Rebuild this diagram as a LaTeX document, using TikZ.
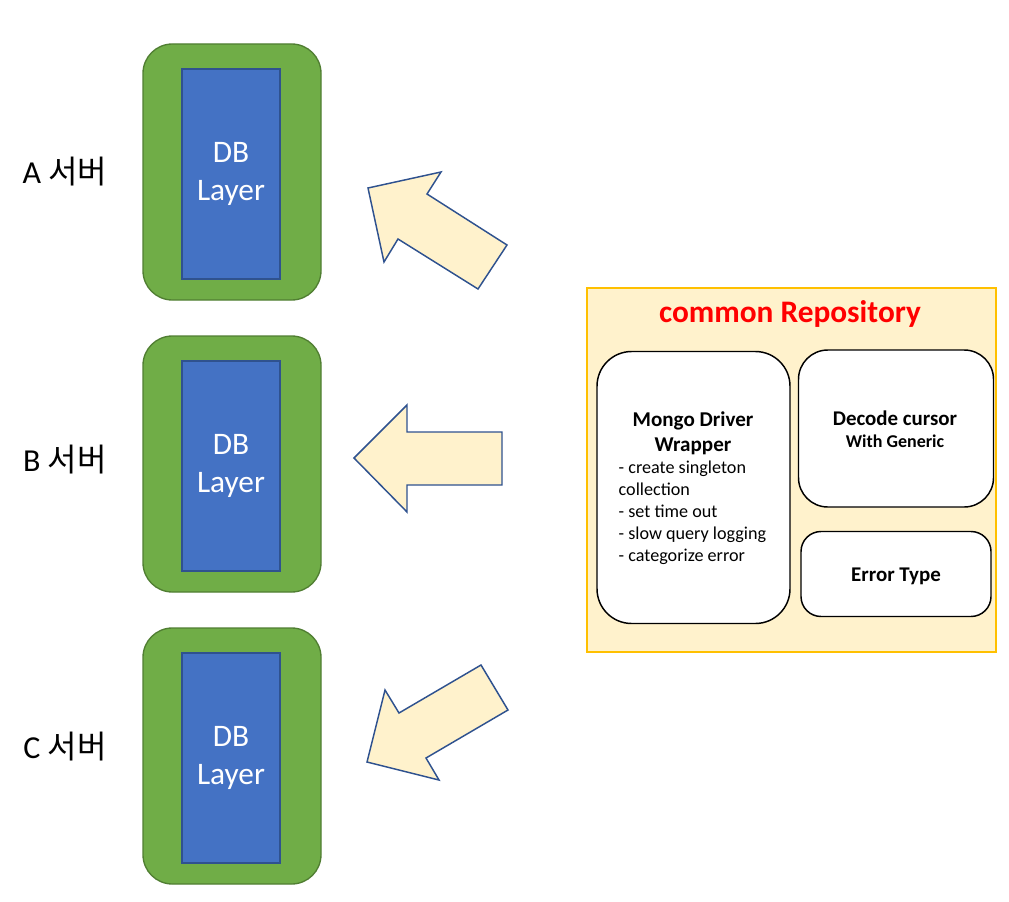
\documentclass[tikz,border=0pt]{standalone}
\usepackage{fontspec}
\setmainfont{Carlito}
\newfontfamily\krfont{Noto Sans CJK KR}
\usetikzlibrary{positioning}

\definecolor{srvgreen}{HTML}{70AD47}
\definecolor{srvgreenline}{HTML}{507E32}
\definecolor{dbblue}{HTML}{4472C4}
\definecolor{dbblueline}{HTML}{2F528F}
\definecolor{cream}{HTML}{FFF2CC}
\definecolor{gold}{HTML}{FFC000}

\tikzset{
    server/.style={draw=srvgreenline, fill=srvgreen, line width=1pt, rounded corners=22pt,
                   minimum width=133.5pt, minimum height=192pt},
    dblayer/.style={draw=dbblueline, fill=dbblue, line width=1pt, minimum width=73.5pt,
                    minimum height=157.5pt, text=white, align=center,
                    font=\fontsize{23.5}{28}\selectfont},
    srvlabel/.style={font=\fontsize{24}{28}\selectfont},
    bigarrow/.style={draw=dbblueline, fill=cream, line width=1.1pt, line join=miter},
    module/.style={draw=black, fill=white, line width=1.1pt},
}

\begin{document}
\begin{tikzpicture}[x=0.75pt, y=-0.75pt]
\useasboundingbox (0,0) rectangle (1009,902);

% servers
\begin{scope}[every node/.style={}]
    \node (a) at (232, 172) [server] {};
    \node (adb) at (231, 174) [dblayer] {DB\\Layer};
    \node (atext) at (65, 172) [srvlabel] {A {\krfont 서버}};

    \node (b) at (232, 464) [server] {};
    \node (bdb) at (231, 466) [dblayer] {DB\\Layer};
    \node (btext) at (65, 460) [srvlabel] {B {\krfont 서버}};

    \node (c) at (232, 756) [server] {};
    \node (cdb) at (231, 758) [dblayer] {DB\\Layer};
    \node (ctext) at (65, 747) [srvlabel] {C {\krfont 서버}};
\end{scope}

% common repository
\begin{scope}[every node/.style={align=center}]
    \node (repo) at (791.5, 470) [draw=gold, fill=cream, line width=1.1pt,
        minimum width=306.75pt, minimum height=273pt] {};
    \node (repotext) at (790, 314) [text=red, font=\fontsize{23.5}{28}\selectfont\bfseries] {common Repository};

    \node (mongo) at (693.5, 487.5) [module, rounded corners=26pt,
        minimum width=144.75pt, minimum height=204pt] {};
    \node (mongotext) at (693, 433) [font=\fontsize{15.8}{19}\selectfont\bfseries] {Mongo Driver\\Wrapper};
    \node (mongolist) at (614, 513) [anchor=west, align=left, font=\fontsize{13.6}{16.5}\selectfont]
        {- create singleton\\collection\\- set time out\\- slow query logging\\- categorize error};

    \node (decode) at (896, 428.5) [module, rounded corners=22pt,
        minimum width=146.25pt, minimum height=117.75pt] {};
    \node (decodetext) at (895, 418) [font=\fontsize{15.7}{19}\selectfont\bfseries] {Decode cursor};
    \node (generic) at (895, 441) [font=\fontsize{13.5}{16}\selectfont\bfseries] {With Generic};

    \node (error) at (896, 574) [module, rounded corners=15pt,
        minimum width=142.5pt, minimum height=63.75pt] {};
    \node (errortext) at (896, 576) [font=\fontsize{15.7}{19}\selectfont\bfseries] {Error Type};
\end{scope}

% arrows
\draw [bigarrow] (368,188) -- (441,172) -- (427,194) -- (507,245) -- (478,289) -- (398,239) -- (384,262) -- cycle;
\draw [bigarrow] (354,458) -- (407,405) -- (407,432) -- (502,432) -- (502,485) -- (407,485) -- (407,512) -- cycle;
\draw [bigarrow] (367,762) -- (385,690) -- (399,713) -- (481,665) -- (508,710) -- (426,758) -- (439,780) -- cycle;
\end{tikzpicture}
\end{document}
